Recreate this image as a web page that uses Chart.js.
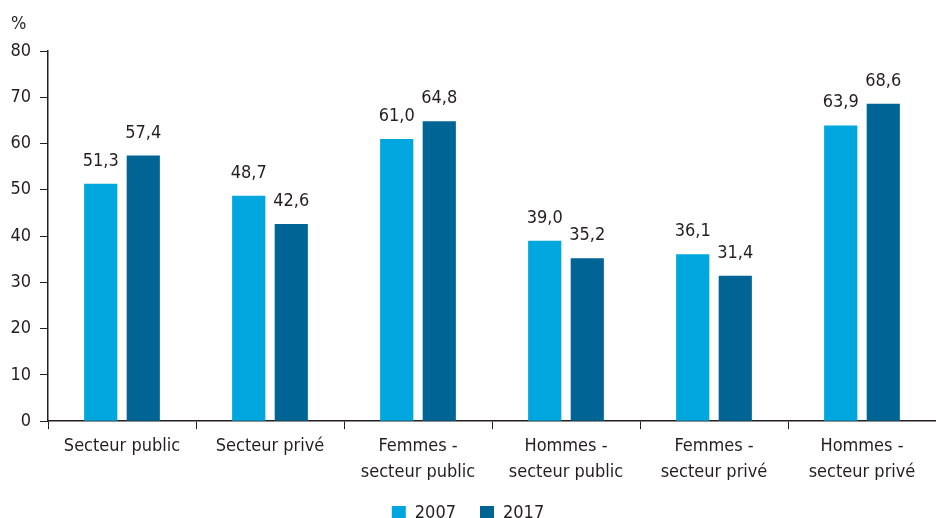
<!DOCTYPE html>
<html>
<head>
<meta charset="utf-8">
<script src="https://cdn.jsdelivr.net/npm/chart.js@4"></script>
<style>
html,body{margin:0;padding:0;background:#fff;}
#wrap{width:936px;height:518px;position:relative;}
</style>
</head>
<body>
<div id="wrap"><canvas id="c"></canvas></div>
<script>
const categories = [
  ["Secteur public"],
  ["Secteur privé"],
  ["Femmes -", "secteur public"],
  ["Hommes -", "secteur public"],
  ["Femmes -", "secteur privé"],
  ["Hommes -", "secteur privé"]
];
const seriesNames = ["2007", "2017"];
const values2007 = [51.3, 48.7, 61.0, 39.0, 36.1, 63.9];
const values2017 = [57.4, 42.6, 64.8, 35.2, 31.4, 68.6];
const yTicks = [0, 10, 20, 30, 40, 50, 60, 70, 80];
const yUnit = "%";

const FONT = "'DejaVu Sans Condensed', 'Liberation Sans Narrow', sans-serif";
const FS = 18;
const TXT = "#231f20";

const labelPlugin = {
  id: 'valueLabels',
  afterDatasetsDraw(chart) {
    const ctx = chart.ctx;
    ctx.save();
    ctx.font = FS + "px " + FONT;
    ctx.fillStyle = TXT;
    ctx.textAlign = 'center';
    ctx.textBaseline = 'alphabetic';
    chart.data.datasets.forEach((ds, i) => {
      chart.getDatasetMeta(i).data.forEach((bar, j) => {
        const v = ds.data[j];
        ctx.fillText(v.toFixed(1).replace('.', ','), bar.x, bar.y - 18);
      });
    });
    ctx.textAlign = 'left';
    ctx.fillText(yUnit, 11, 29);
    ctx.restore();
  }
};

new Chart(document.getElementById('c'), {
  type: 'bar',
  data: {
    labels: categories,
    datasets: [
      { label: seriesNames[0], data: values2007, backgroundColor: '#00a6de', categoryPercentage: 0.575, barPercentage: 0.78 },
      { label: seriesNames[1], data: values2017, backgroundColor: '#006594', categoryPercentage: 0.575, barPercentage: 0.78 }
    ]
  },
  options: {
    responsive: true,
    maintainAspectRatio: false,
    animation: false,
    layout: { padding: { top: 51, right: 0, left: 0, bottom: -14 } },
    plugins: {
      legend: {
        position: 'bottom',
        labels: {
          font: { family: FONT, size: FS },
          color: TXT,
          boxWidth: 14,
          boxHeight: 14,
          padding: 24,
          useBorderRadius: false
        }
      },
      tooltip: { enabled: false }
    },
    scales: {
      x: {
        offset: true,
        afterFit(axis) { axis.height -= 9; },
        grid: { drawOnChartArea: false, drawTicks: true, tickLength: 8, color: '#231f20', offset: true },
        border: { display: true, color: '#231f20', width: 1.5 },
        ticks: { font: { family: FONT, size: FS, lineHeight: 1.44 }, color: TXT, padding: 4, maxRotation: 0, autoSkip: false }
      },
      y: {
        min: 0,
        max: 80,
        afterBuildTicks(axis) { axis.ticks = yTicks.map(v => ({ value: v })); },
        afterFit(axis) { axis.width = 48; },
        grid: { drawOnChartArea: false, drawTicks: true, tickLength: 8, color: '#231f20' },
        border: { display: true, color: '#231f20', width: 1.5 },
        ticks: { font: { family: FONT, size: FS }, color: TXT, padding: 9 }
      }
    }
  },
  plugins: [labelPlugin]
});
</script>
</body>
</html>
